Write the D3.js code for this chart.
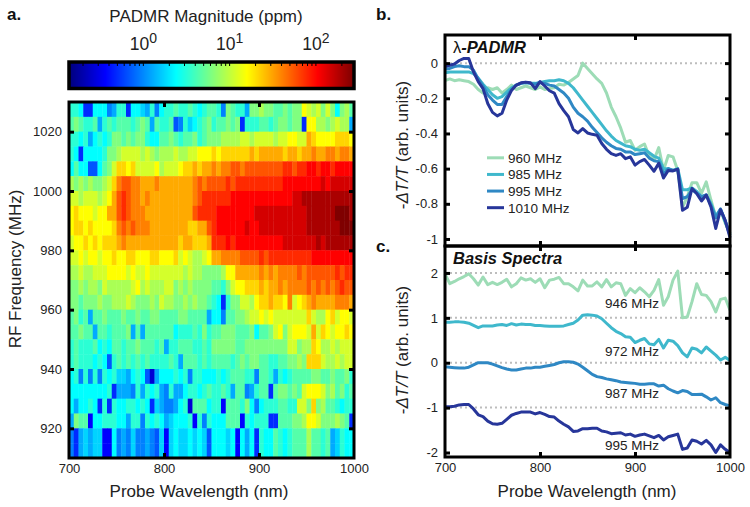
<!DOCTYPE html>
<html>
<head>
	<meta charset="utf-8">
	<title>PADMR</title>
	<script src="https://cdn.jsdelivr.net/npm/d3@7"></script>
	<style type="text/css">
		html, body { margin: 0; padding: 0; background: #fff; }
		svg { display: block; }
		text { font-family: "Liberation Sans", Arial, sans-serif; fill: #222; }
		.tick-label { font-size: 13px; }
		.axis-title { font-size: 17px; }
		.panel-label { font-size: 17px; font-weight: bold; fill: #111; }
		.panel-title { font-size: 16.5px; font-weight: bold; font-style: italic; fill: #111; }
		.small-label { font-size: 13.5px; }
	</style>
</head>
<body>
<svg width="750" height="507"></svg>
<script type="text/javascript">
	// wavelength axis shared by everything, nm
	var wavelengths = d3.range(700, 1001, 5);
	var heatWavelengths = d3.range(700, 1000, 5);
	// lower edge of each RF bin, top row first
	var frequencies = d3.range(1025, 905, -5);

	// one character per cell, base 36 level (0 = bottom of colorbar, o = top)
	var heatLevels = [
		"aa94499967 aa49987a69 aabaaba9ab ba6cbaa7cc dccbbcbccf edecec9cdb",
		"bcbaab7aba bbbabcb7ba ab56a89abc abbcbc4aaa bbabccbcc4 ffddcdedd7",
		"aa9a79a9ac cbcbcca99b bcbabbcabc ccddddeede eeedeeffee hgffffgggf",
		"a949999acc deeeededcd ddeddeefff gfgggggghg hhhhhghhgh hihhiihiih",
		"9b99559bce ggfgeeeefd eeefgghghh ihiijjijjj jjjjjkkjkk llkllkllll",
		"dcdcdccdeg ijjiihhhih hhhhhhijij jjjkjkkkkk kkkkklllll lllmlmmmmm",
		"eedeeedefh jkjiihihhh hhhhhhijkk kkkkllllll lllllllmmn nnnnnnnnnn",
		"fgfffeffhh jkjiiihhhh hhhhhhjkkk kllllllllm mmmmmmmmmm nnnnnnooon",
		"fggfgffffg ijijiiihhh hhhhhgghhj kllllllmll mmmmmmmmmm nnnnnnnooo",
		"effgfgfggg hihhhhhhhh hhhghhgggh kkklklllll lllllmmmmm mmnmnnnnnn",
		"eefeffeffg ffggfffggf ffgefeddef hhiiiijjjj kjkkkkkkkk klllllllll",
		"ddeddeeeff ffefeefeee eeeededdcc ccdffhhhhh ihihiiiiji jjjjjjkjkk",
		"ccdcddcedd dddefdeddd eecdcdcccc bbaceffggg hghhihiiii jijijijkjj",
		"ccbcccdccd ddedcccdce ddccdcdccb a94acceedf gghggfiefg hihhhhiiih",
		"bcab7bbcbb bcbbcbbccb bbbccbbbb7 996bbccdee fefeeeeeee geddfgeffe",
		"bbcbb7bbab bbc7b7bbbb bb9aaabaca bbcccbbbc9 bbcefcefff ehegfeffgf",
		"abaaab9a9b babbcbbbab 7aabbbaaba cccccbbccc cccccceecd dgfddedeee",
		"abaaa9a95a babababaaa aba7bbbaba bbbbabcbcc bbaabbccdc gggeddedee",
		"9a6a6a6a9a 8879a95279 99a9a6aa99 9a9abbbaa6 bba7a9abbb bccbbcbbca",
		"99999999a4 7776a7a9a7 6a779aa9ab aaba7bb67a bb4bccbcbe fffecdbcab",
		"9799a94a4a 99aa9a9487 6679a2bbb9 aa3bbbac96 9aaabbaaee cgcdbba9aa",
		"7cbb399aaa 997aa6a9a9 78999a3a6a 999bbb3a9a aa44bbbccd ffecccdcb4",
		"6478788339 6768667658 3898898985 9998939794 a99ba9abbb dbbab78a99",
		"6478788339 6768667658 3898898985 9998939794 a99ba9abbb dbbab78a99"
	];
	var logMin = -0.85, logMax = 2.43;

	// panel b
	var lines960 = [-0.1, -0.09, -0.1, -0.095, -0.1, -0.105, -0.12, -0.15, -0.17, -0.14, -0.15, -0.14, -0.17, -0.15, -0.125, -0.15, -0.14, -0.13, -0.14, -0.15, -0.135, -0.15, -0.145, -0.14, -0.12, -0.125, -0.11, -0.09, -0.07, 0, -0.03, -0.06, -0.09, -0.115, -0.17, -0.25, -0.305, -0.37, -0.45, -0.44, -0.495, -0.475, -0.46, -0.53, -0.55, -0.48, -0.61, -0.525, -0.533, -0.61, -0.82, -0.76, -0.68, -0.68, -0.74, -0.675, -0.78, -0.875, -0.835, -0.91, -0.97];
	var lines985 = [-0.055, -0.05, -0.05, -0.05, -0.05, -0.05, -0.06, -0.085, -0.12, -0.15, -0.18, -0.2, -0.19, -0.165, -0.14, -0.125, -0.115, -0.11, -0.115, -0.115, -0.11, -0.105, -0.1, -0.1, -0.095, -0.1, -0.115, -0.14, -0.175, -0.21, -0.245, -0.28, -0.315, -0.35, -0.385, -0.415, -0.44, -0.455, -0.47, -0.475, -0.49, -0.495, -0.49, -0.51, -0.53, -0.54, -0.6, -0.6, -0.61, -0.6, -0.72, -0.72, -0.71, -0.73, -0.76, -0.75, -0.8, -0.87, -0.83, -0.9, -0.97];
	var lines995 = [-0.035, -0.03, -0.02, -0.015, -0.02, -0.02, -0.04, -0.09, -0.13, -0.18, -0.21, -0.235, -0.235, -0.19, -0.15, -0.125, -0.115, -0.11, -0.115, -0.12, -0.11, -0.115, -0.125, -0.13, -0.15, -0.17, -0.2, -0.25, -0.285, -0.305, -0.33, -0.365, -0.395, -0.425, -0.45, -0.47, -0.485, -0.49, -0.505, -0.505, -0.52, -0.515, -0.51, -0.54, -0.555, -0.56, -0.63, -0.6, -0.61, -0.605, -0.77, -0.76, -0.72, -0.74, -0.76, -0.75, -0.81, -0.88, -0.83, -0.9, -0.98];
	var lines1010 = [-0.02, -0.012, -0.005, 0.015, 0.027, 0.027, -0.05, -0.105, -0.145, -0.23, -0.28, -0.3, -0.285, -0.21, -0.155, -0.125, -0.112, -0.108, -0.112, -0.145, -0.105, -0.13, -0.157, -0.17, -0.23, -0.27, -0.305, -0.378, -0.397, -0.372, -0.397, -0.405, -0.41, -0.457, -0.49, -0.515, -0.525, -0.515, -0.543, -0.533, -0.58, -0.56, -0.548, -0.58, -0.615, -0.57, -0.653, -0.61, -0.613, -0.603, -0.837, -0.82, -0.713, -0.742, -0.784, -0.75, -0.818, -0.94, -0.833, -0.894, -0.992];
	var legendNames = ["960 MHz", "985 MHz", "995 MHz", "1010 MHz"];

	// panel c
	var basis946 = [1.98, 1.76, 1.81, 1.87, 1.92, 1.98, 1.87, 1.73, 1.91, 1.74, 1.79, 1.74, 1.79, 1.86, 1.69, 1.76, 1.89, 1.84, 1.87, 1.79, 1.87, 1.67, 1.84, 1.86, 1.9, 1.76, 1.76, 1.69, 1.6, 1.84, 1.71, 1.71, 1.8, 1.69, 1.85, 1.69, 1.78, 1.76, 1.5, 1.65, 1.56, 1.67, 1.58, 1.47, 1.61, 1.85, 1.28, 1.47, 1.84, 2.04, 1, 1.02, 1.36, 1.76, 1.52, 1.5, 1.36, 1.13, 1.41, 1.44, 1.17];
	var basis972 = [0.9, 0.9, 0.91, 0.91, 0.9, 0.88, 0.83, 0.78, 0.82, 0.82, 0.82, 0.84, 0.85, 0.83, 0.87, 0.84, 0.86, 0.85, 0.85, 0.83, 0.83, 0.82, 0.81, 0.81, 0.81, 0.82, 0.85, 0.88, 0.95, 1.06, 1.07, 1.06, 1.04, 0.98, 0.88, 0.78, 0.7, 0.65, 0.58, 0.57, 0.45, 0.5, 0.54, 0.42, 0.4, 0.52, 0.33, 0.5, 0.48, 0.38, 0.22, 0.13, 0.33, 0.3, 0.22, 0.35, 0.26, 0.17, 0.06, 0.12, 0.05];
	var basis987 = [-0.09, -0.1, -0.11, -0.12, -0.12, -0.1, -0.05, 0, 0, 0, -0.03, -0.07, -0.11, -0.14, -0.16, -0.16, -0.14, -0.12, -0.12, -0.1, -0.1, -0.08, -0.06, -0.04, 0, 0.02, 0.02, 0.01, -0.03, -0.1, -0.18, -0.26, -0.31, -0.33, -0.36, -0.38, -0.4, -0.43, -0.44, -0.45, -0.46, -0.48, -0.48, -0.47, -0.47, -0.52, -0.5, -0.58, -0.63, -0.67, -0.62, -0.64, -0.71, -0.71, -0.7, -0.76, -0.83, -0.78, -0.89, -0.93, -0.96];
	var basis995 = [-0.98, -0.98, -0.97, -0.94, -0.93, -0.93, -1.03, -1.16, -1.2, -1.3, -1.36, -1.37, -1.35, -1.26, -1.17, -1.13, -1.1, -1.1, -1.1, -1.14, -1.11, -1.15, -1.2, -1.21, -1.3, -1.37, -1.43, -1.53, -1.52, -1.47, -1.47, -1.46, -1.46, -1.52, -1.54, -1.58, -1.57, -1.56, -1.61, -1.59, -1.64, -1.61, -1.59, -1.63, -1.67, -1.62, -1.72, -1.65, -1.62, -1.59, -1.93, -1.9, -1.72, -1.75, -1.81, -1.73, -1.83, -2, -1.83, -1.93, -2];
	var basisNames = ["946 MHz", "972 MHz", "987 MHz", "995 MHz"];
	var basisLabelAt = [1.33, 0.26, -0.68, -1.83];

	var lineColors = ["#9ddcb6", "#3fb8cc", "#2f88c4", "#27369a"];

	var svg = d3.select("svg");

	var jet = d3.scaleLinear()
		.domain([0, 0.125, 0.375, 0.625, 0.875, 1])
		.range(["#00007f", "#0000ff", "#00ffff", "#ffff00", "#ff0000", "#7f0000"]);
	var color = d3.scaleSequentialLog(jet).domain([Math.pow(10, logMin), Math.pow(10, logMax)]);

	function toPpm(ch) {
		return Math.pow(10, logMin + parseInt(ch, 36) / 24 * (logMax - logMin));
	}

	// plain hyphen on negatives like the figure
	function hyphen(fmt) {
		return function (d) { return fmt(d).replace("\u2212", "-"); };
	}

	// black box with thick inward ticks on all four sides
	function frame(g, x, y, xTicks, yTicks, bottomLabels, yFormat) {
		var x0 = x.range()[0], x1 = x.range()[1], top = y.range()[1], bottom = y.range()[0];
		var inner = 5;
		function thick(sel) {
			sel.select(".domain").remove();
			sel.selectAll("line").attr("stroke", "#000").attr("stroke-width", 3);
		}
		function plain(sel) {
			sel.select(".domain").remove();
			sel.selectAll("text").attr("class", "tick-label");
			sel.attr("font-size", null).attr("font-family", null);
		}
		g.append("g").attr("transform", "translate(0," + bottom + ")")
			.call(d3.axisTop(x).tickValues(xTicks).tickSize(inner).tickFormat("")).call(thick);
		g.append("g").attr("transform", "translate(0," + top + ")")
			.call(d3.axisBottom(x).tickValues(xTicks).tickSize(inner).tickFormat("")).call(thick);
		g.append("g").attr("transform", "translate(" + x0 + ",0)")
			.call(d3.axisRight(y).tickValues(yTicks).tickSize(inner).tickFormat("")).call(thick);
		g.append("g").attr("transform", "translate(" + x1 + ",0)")
			.call(d3.axisLeft(y).tickValues(yTicks).tickSize(inner).tickFormat("")).call(thick);
		g.append("rect").attr("x", x0).attr("y", top).attr("width", x1 - x0).attr("height", bottom - top)
			.attr("fill", "none").attr("stroke", "#000").attr("stroke-width", 3);

		g.append("g").attr("transform", "translate(" + (x0 - 7) + ",0)")
			.call(d3.axisLeft(y).tickValues(yTicks).tickSize(0).tickPadding(0).tickFormat(yFormat)).call(plain);
		if (bottomLabels) {
			g.append("g").attr("transform", "translate(0," + (bottom + 6) + ")")
				.call(d3.axisBottom(x).tickValues(bottomLabels).tickSize(0).tickPadding(0).tickFormat(d3.format("d"))).call(plain);
		}
	}

	/* ---------- a. heatmap ---------- */
	var heatG = svg.append("g");
	var xHeat = d3.scaleLinear().domain([700, 1000]).range([69, 354]);
	var yHeat = d3.scaleLinear().domain([910, 1030]).range([458, 102]);

	var cells = [];
	heatLevels.forEach(function (row, r) {
		row.replace(/ /g, "").split("").forEach(function (ch, c) {
			cells.push({ wl: heatWavelengths[c], freq: frequencies[r], ppm: toPpm(ch) });
		});
	});
	heatG.selectAll(".cell").data(cells).enter().append("rect").attr("class", "cell")
		.attr("x", function (d) { return xHeat(d.wl); })
		.attr("y", function (d) { return yHeat(d.freq + 5); })
		.attr("width", function (d) { return xHeat(d.wl + 5) - xHeat(d.wl) + 0.4; })
		.attr("height", function (d) { return yHeat(d.freq) - yHeat(d.freq + 5) + 0.4; })
		.attr("fill", function (d) { return color(d.ppm); });

	frame(heatG, xHeat, yHeat, [800, 900], [920, 940, 960, 980, 1000, 1020], [700, 800, 900, 1000], d3.format("d"));

	heatG.append("text").attr("class", "axis-title").attr("text-anchor", "middle")
		.attr("x", 199).attr("y", 497).text("Probe Wavelength (nm)");
	heatG.append("text").attr("class", "axis-title").attr("text-anchor", "middle")
		.attr("transform", "translate(21,269) rotate(-90)").text("RF Frequency (MHz)");

	/* ---------- colorbar ---------- */
	var barG = svg.append("g");
	var barScale = d3.scaleLog().domain(color.domain()).range([70, 353]);
	var barSteps = d3.range(70, 353, 1);
	barG.selectAll(".bar").data(barSteps).enter().append("rect").attr("class", "bar")
		.attr("x", function (d) { return d; }).attr("y", 62).attr("width", 1.4).attr("height", 26)
		.attr("fill", function (d) { return color(barScale.invert(d + 0.5)); });
	barG.append("rect").attr("x", 69).attr("y", 62).attr("width", 285).attr("height", 26.5)
		.attr("fill", "none").attr("stroke", "#000").attr("stroke-width", 3.5);
	barG.selectAll(".minor").data(barScale.ticks()).enter().append("line").attr("class", "minor")
		.attr("x1", function (d) { return barScale(d); }).attr("x2", function (d) { return barScale(d); })
		.attr("y1", 63).attr("y2", 66).attr("stroke", "#000").attr("stroke-width", 1);

	barG.append("text").attr("class", "axis-title").attr("text-anchor", "middle")
		.attr("x", 206).attr("y", 22).text("PADMR Magnitude (ppm)");
	var barLabels = barG.selectAll(".decade").data([0, 1, 2]).enter().append("text").attr("class", "decade")
		.attr("text-anchor", "middle")
		.attr("x", function (d) { return barScale(Math.pow(10, d)); })
		.attr("y", 50).style("font-size", "17.5px");
	barLabels.append("tspan").text("10");
	barLabels.append("tspan").attr("dy", -7).style("font-size", "14px").text(function (d) { return d; });

	/* ---------- b. and c. line panels ---------- */
	var xLine = d3.scaleLinear().domain([700, 1000]).range([445, 730]);
	var yB = d3.scaleLinear().domain([-1.04, 0.16]).range([246, 35]);
	var yC = d3.scaleLinear().domain([-2.1, 2.6]).range([457, 246]);

	function drawLines(g, series, y) {
		var line = d3.line()
			.x(function (d, i) { return xLine(wavelengths[i]); })
			.y(function (d) { return y(d); });
		g.selectAll(".series").data(series).enter().append("path").attr("class", "series")
			.attr("fill", "none").attr("stroke-width", 3).attr("stroke-linejoin", "round")
			.attr("stroke", function (d, i) { return lineColors[i]; })
			.attr("d", line);
	}
	function dotted(g, values, y) {
		g.selectAll(".zero").data(values).enter().append("line").attr("class", "zero")
			.attr("x1", xLine(700)).attr("x2", xLine(1000))
			.attr("y1", function (d) { return y(d); }).attr("y2", function (d) { return y(d); })
			.attr("stroke", "#bdbdbd").attr("stroke-width", 2).attr("stroke-dasharray", "2,3");
	}
	function yTitle(g, cy) {
		var t = g.append("text").attr("class", "axis-title").attr("text-anchor", "middle")
			.attr("transform", "translate(408," + cy + ") rotate(-90)");
		t.append("tspan").text("-");
		t.append("tspan").style("font-style", "italic").text("\u0394T/T");
		t.append("tspan").text(" (arb. units)");
	}

	var bG = svg.append("g");
	dotted(bG, [0], yB);
	drawLines(bG, [lines960, lines985, lines995, lines1010], yB);
	frame(bG, xLine, yB, [800, 900], [-1, -0.8, -0.6, -0.4, -0.2, 0], null, function (d) {
		return (d === 0 || d === -1) ? String(d) : hyphen(d3.format(".1f"))(d);
	});
	var bTitle = bG.append("text").attr("class", "panel-title").attr("x", 453).attr("y", 53);
	bTitle.append("tspan").style("font-weight", "normal").style("font-style", "normal").text("\u03bb");
	bTitle.append("tspan").text("-PADMR");
	yTitle(bG, 145);

	var legendRow = d3.scaleBand().domain(legendNames).range([149.5, 216]);
	var legend = bG.selectAll(".legend").data(legendNames).enter().append("g").attr("class", "legend")
		.attr("transform", function (d) { return "translate(0," + (legendRow(d) + legendRow.bandwidth() / 2) + ")"; });
	legend.append("line").attr("x1", 487).attr("x2", 504)
		.attr("stroke", function (d, i) { return lineColors[i]; }).attr("stroke-width", 3);
	legend.append("text").attr("class", "small-label").attr("x", 508).attr("y", 5).text(function (d) { return d; });

	var cG = svg.append("g");
	dotted(cG, [-1, 0, 1, 2], yC);
	drawLines(cG, [basis946, basis972, basis987, basis995], yC);
	frame(cG, xLine, yC, [800, 900], [-2, -1, 0, 1, 2], [700, 800, 900, 1000], hyphen(d3.format("d")));
	cG.append("text").attr("class", "panel-title").attr("x", 453).attr("y", 264).text("Basis Spectra");
	yTitle(cG, 350);
	cG.append("text").attr("class", "axis-title").attr("text-anchor", "middle")
		.attr("x", 587).attr("y", 497).text("Probe Wavelength (nm)");

	cG.selectAll(".basis-label").data(basisNames).enter().append("text").attr("class", "small-label basis-label")
		.attr("text-anchor", "middle").attr("x", 632)
		.attr("y", function (d, i) { return yC(basisLabelAt[i]) + 5; })
		.text(function (d) { return d; });

	// panel labels
	svg.append("text").attr("class", "panel-label").attr("x", 7).attr("y", 20).text("a.");
	svg.append("text").attr("class", "panel-label").attr("x", 376).attr("y", 20).text("b.");
	svg.append("text").attr("class", "panel-label").attr("x", 376).attr("y", 252).text("c.");
</script>
</body>
</html>
